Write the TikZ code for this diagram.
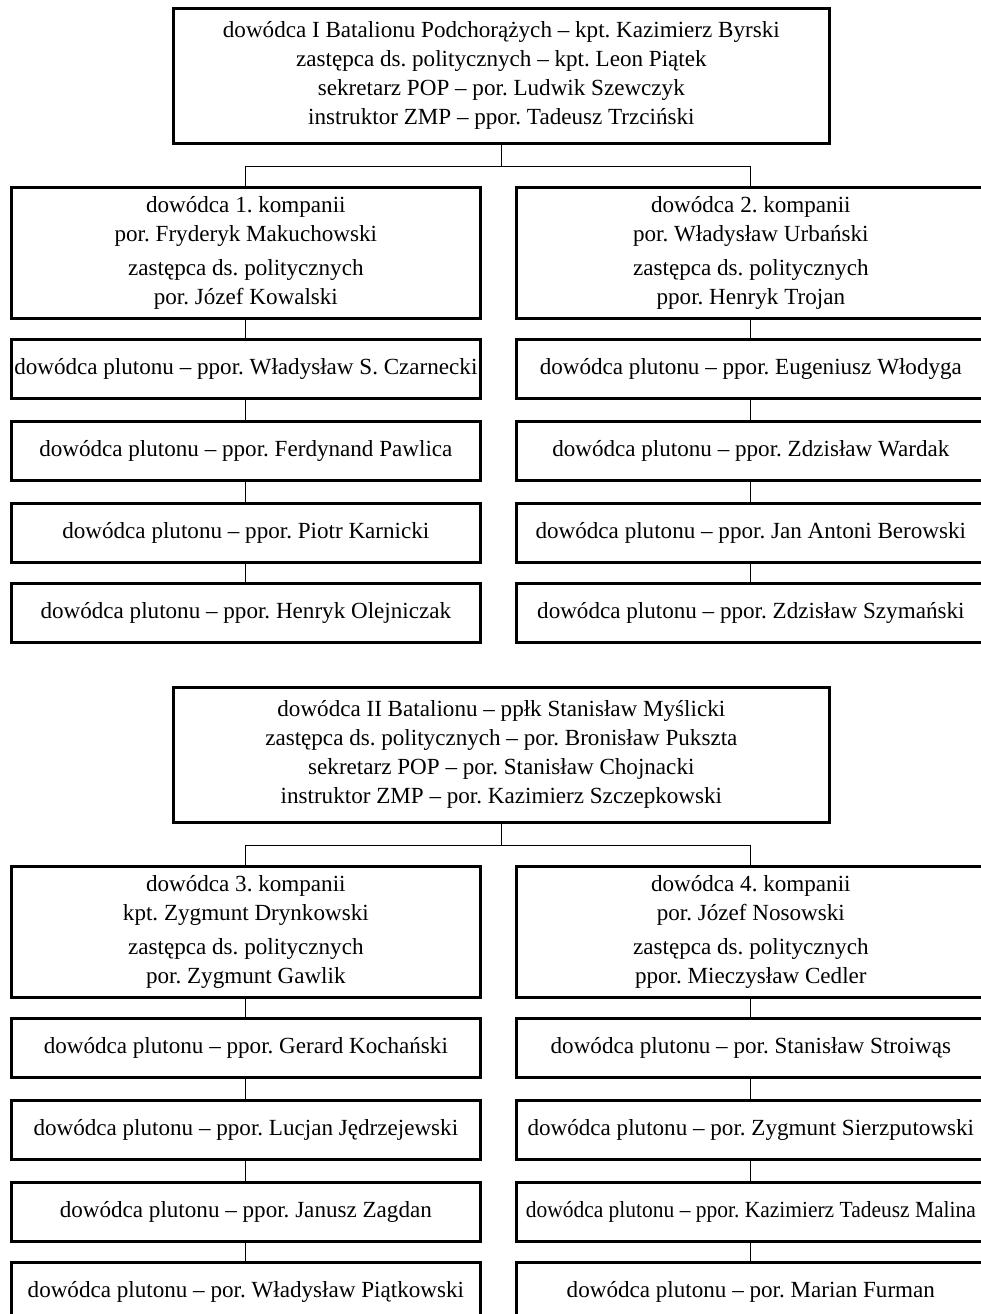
\documentclass[tikz,border=0pt]{standalone}
\usepackage{fontspec}
\usepackage{graphicx}
\setmainfont{Liberation Serif}
\frenchspacing
\begin{document}
\begin{tikzpicture}[x=1pt,y=-1pt,
  box/.style={draw, line width=2.7pt, align=center, inner sep=0pt, anchor=north west,
    font=\fontsize{23.1}{29}\selectfont},
  headbox/.style={box, minimum width=656pt, minimum height=135pt},
  compbox/.style={box, minimum width=469pt, minimum height=131pt},
  platbox/.style={box, minimum width=469pt, minimum height=59pt},
  link/.style={line width=1.1pt}]
\useasboundingbox (0,0) rectangle (981,1314);

% ---------- I Batalion ----------
\node[headbox] (b1) at (172,7) {dowódca I Batalionu Podchorążych – kpt. Kazimierz Byrski\\
  zastępca ds. politycznych – kpt. Leon Piątek\\
  sekretarz POP – por. Ludwik Szewczyk\\
  instruktor ZMP – ppor. Tadeusz Trzciński};

\node[compbox] (k1) at (10,186) {dowódca 1. kompanii\\ por. Fryderyk Makuchowski\\[5pt]
  zastępca ds. politycznych\\ por. Józef Kowalski};
\node[compbox] (k2) at (515,186) {dowódca 2. kompanii\\ por. Władysław Urbański\\[5pt]
  zastępca ds. politycznych\\ ppor. Henryk Trojan};

\node[platbox] (p11) at (10,338) {dowódca plutonu – ppor. Władysław S. Czarnecki};
\node[platbox] (p12) at (10,420) {dowódca plutonu – ppor. Ferdynand Pawlica};
\node[platbox] (p13) at (10,502) {dowódca plutonu – ppor. Piotr Karnicki};
\node[platbox] (p14) at (10,582) {dowódca plutonu – ppor. Henryk Olejniczak};

\node[platbox] (p21) at (515,338) {dowódca plutonu – ppor. Eugeniusz Włodyga};
\node[platbox] (p22) at (515,420) {dowódca plutonu – ppor. Zdzisław Wardak};
\node[platbox] (p23) at (515,502) {dowódca plutonu – ppor. Jan Antoni Berowski};
\node[platbox] (p24) at (515,582) {dowódca plutonu – ppor. Zdzisław Szymański};

\draw[link] (b1.south) -- ++(0,22) -| (k1.north);
\draw[link] (b1.south) -- ++(0,22) -| (k2.north);
\draw[link] (k1.south) -- (p11.north) (p11.south) -- (p12.north)
  (p12.south) -- (p13.north) (p13.south) -- (p14.north);
\draw[link] (k2.south) -- (p21.north) (p21.south) -- (p22.north)
  (p22.south) -- (p23.north) (p23.south) -- (p24.north);

% ---------- II Batalion ----------
\node[headbox] (b2) at (172,686) {dowódca II Batalionu – ppłk Stanisław Myślicki\\
  zastępca ds. politycznych – por. Bronisław Pukszta\\
  sekretarz POP – por. Stanisław Chojnacki\\
  instruktor ZMP – por. Kazimierz Szczepkowski};

\node[compbox] (k3) at (10,865) {dowódca 3. kompanii\\ kpt. Zygmunt Drynkowski\\[5pt]
  zastępca ds. politycznych\\ por. Zygmunt Gawlik};
\node[compbox] (k4) at (515,865) {dowódca 4. kompanii\\ por. Józef Nosowski\\[5pt]
  zastępca ds. politycznych\\ ppor. Mieczysław Cedler};

\node[platbox] (p31) at (10,1017) {dowódca plutonu – ppor. Gerard Kochański};
\node[platbox] (p32) at (10,1099) {dowódca plutonu – ppor. Lucjan Jędrzejewski};
\node[platbox] (p33) at (10,1181) {dowódca plutonu – ppor. Janusz Zagdan};
\node[platbox] (p34) at (10,1261) {dowódca plutonu – por. Władysław Piątkowski};

\node[platbox] (p41) at (515,1017) {dowódca plutonu – por. Stanisław Stroiwąs};
\node[platbox] (p42) at (515,1099) {dowódca plutonu – por. Zygmunt Sierzputowski};
\node[platbox] (p43) at (515,1181) {\scalebox{0.93}[1]{dowódca plutonu – ppor. Kazimierz Tadeusz Malina}};
\node[platbox] (p44) at (515,1261) {dowódca plutonu – por. Marian Furman};

\draw[link] (b2.south) -- ++(0,22) -| (k3.north);
\draw[link] (b2.south) -- ++(0,22) -| (k4.north);
\draw[link] (k3.south) -- (p31.north) (p31.south) -- (p32.north)
  (p32.south) -- (p33.north) (p33.south) -- (p34.north);
\draw[link] (k4.south) -- (p41.north) (p41.south) -- (p42.north)
  (p42.south) -- (p43.north) (p43.south) -- (p44.north);
\end{tikzpicture}
\end{document}
